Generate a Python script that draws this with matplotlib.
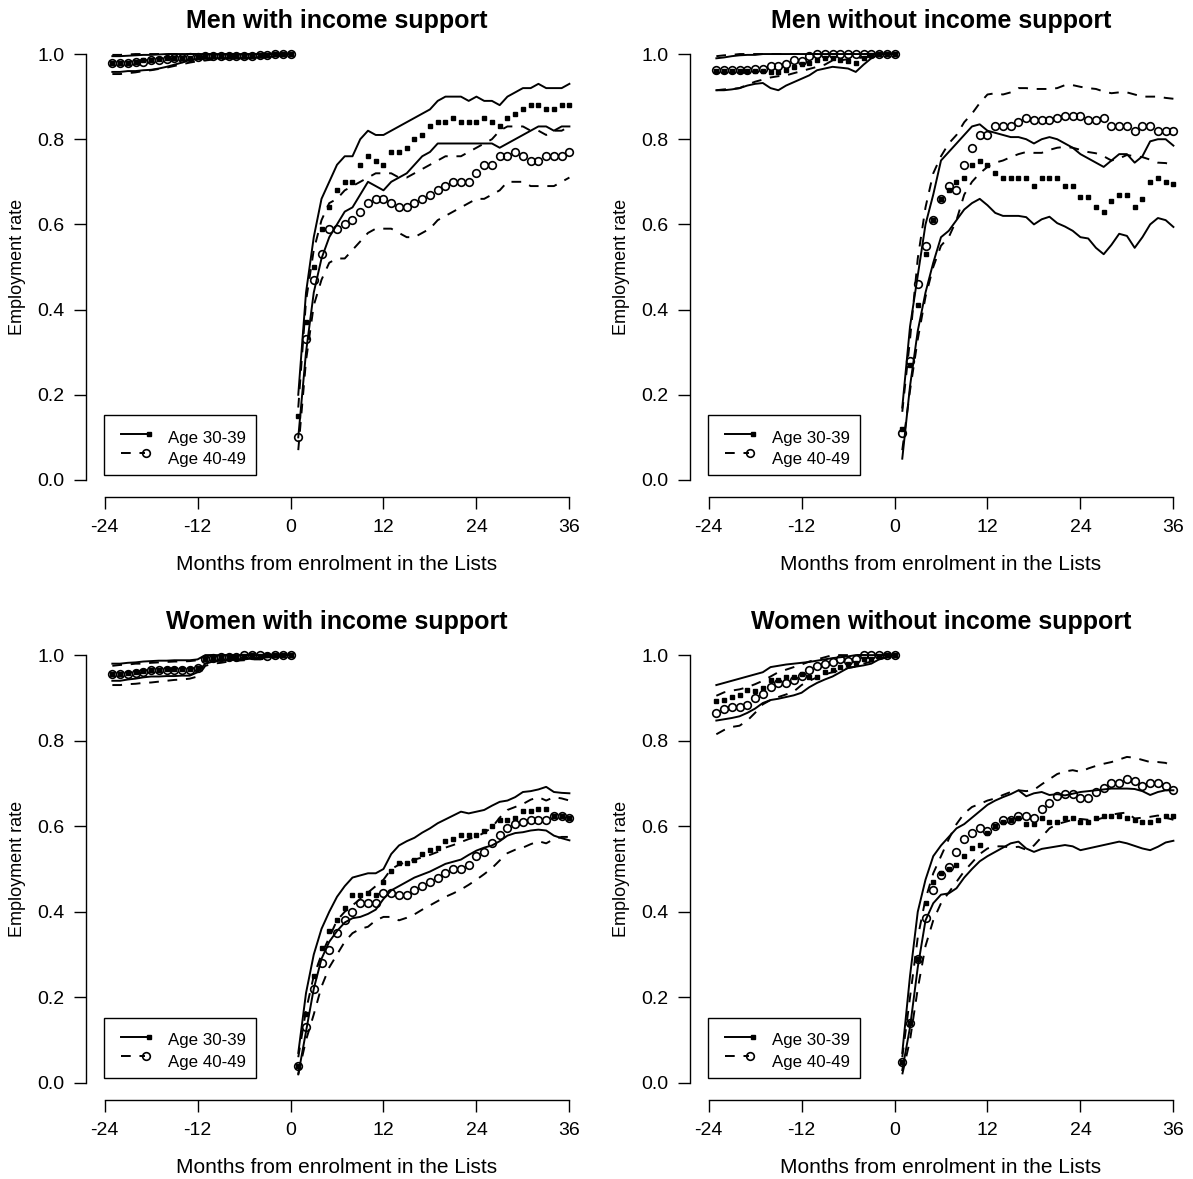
import numpy as np
import matplotlib
matplotlib.use('Agg')
import matplotlib.pyplot as plt
from matplotlib.patches import Rectangle

plt.rcParams['font.family'] = ['Liberation Sans', 'DejaVu Sans']

months_pre = np.arange(-23, 1)
months_post = np.arange(1, 37)
xticks = [-24, -12, 0, 12, 24, 36]
yticks = [0.0, 0.2, 0.4, 0.6, 0.8, 1.0]
titles = ['Men with income support', 'Men without income support',
          'Women with income support', 'Women without income support']
legend_labels = ['Age 30-39', 'Age 40-49']

# --- Men with income support ---
m_is_30_pre = [0.980, 0.978, 0.980, 0.982, 0.985, 0.985, 0.988, 0.990, 0.990, 0.990, 0.990, 0.993,
               0.995, 0.995, 0.995, 0.995, 0.995, 0.995, 0.995, 0.997, 0.997, 1.000, 1.000, 1.000]
m_is_30_pre_hi = [0.995, 0.995, 0.996, 0.997, 0.998, 0.998, 0.999, 1.000, 1.000, 1.000, 1.000, 1.000,
                  1.000, 1.000, 1.000, 1.000, 1.000, 1.000, 1.000, 1.000, 1.000, 1.000, 1.000, 1.000]
m_is_30_pre_lo = [0.958, 0.958, 0.960, 0.960, 0.962, 0.963, 0.966, 0.970, 0.975, 0.980, 0.986, 0.988,
                  0.990, 0.990, 0.990, 0.990, 0.990, 0.990, 0.992, 0.992, 0.993, 0.995, 0.997, 1.000]
m_is_40_pre = [0.978, 0.978, 0.978, 0.982, 0.982, 0.985, 0.987, 0.988, 0.990, 0.990, 0.993, 0.993,
               0.995, 0.995, 0.995, 0.995, 0.995, 0.995, 0.995, 0.997, 0.997, 1.000, 1.000, 1.000]
m_is_40_pre_hi = [0.998, 0.998, 0.999, 1.000, 1.000, 1.000, 1.000, 1.000, 1.000, 1.000, 1.000, 1.000,
                  1.000, 1.000, 1.000, 1.000, 1.000, 1.000, 1.000, 1.000, 1.000, 1.000, 1.000, 1.000]
m_is_40_pre_lo = [0.953, 0.953, 0.955, 0.957, 0.960, 0.962, 0.965, 0.968, 0.972, 0.976, 0.980, 0.983,
                  0.985, 0.987, 0.988, 0.990, 0.990, 0.990, 0.990, 0.992, 0.993, 0.995, 0.997, 1.000]
m_is_30 = [0.15, 0.37, 0.50, 0.59, 0.64, 0.68, 0.70, 0.70, 0.74, 0.76, 0.75, 0.74, 0.77, 0.77, 0.78, 0.80,
           0.81, 0.83, 0.84, 0.84, 0.85, 0.84, 0.84, 0.84, 0.85, 0.84, 0.83, 0.85, 0.86, 0.87, 0.88, 0.88,
           0.87, 0.87, 0.88, 0.88]
m_is_30_hi = [0.20, 0.44, 0.57, 0.66, 0.70, 0.74, 0.76, 0.76, 0.80, 0.82, 0.81, 0.81, 0.82, 0.83, 0.84, 0.85,
              0.86, 0.87, 0.89, 0.90, 0.90, 0.90, 0.89, 0.90, 0.89, 0.89, 0.88, 0.90, 0.91, 0.92, 0.92, 0.93,
              0.92, 0.92, 0.92, 0.93]
m_is_30_lo = [0.10, 0.30, 0.44, 0.52, 0.57, 0.60, 0.63, 0.64, 0.67, 0.70, 0.69, 0.68, 0.70, 0.71, 0.72, 0.74,
              0.76, 0.77, 0.79, 0.79, 0.79, 0.79, 0.79, 0.79, 0.79, 0.79, 0.78, 0.79, 0.80, 0.81, 0.82, 0.83,
              0.83, 0.82, 0.83, 0.83]
m_is_40 = [0.10, 0.33, 0.47, 0.53, 0.59, 0.59, 0.60, 0.61, 0.63, 0.65, 0.66, 0.66, 0.65, 0.64, 0.64, 0.65,
           0.66, 0.67, 0.68, 0.69, 0.70, 0.70, 0.70, 0.72, 0.74, 0.74, 0.76, 0.76, 0.77, 0.76, 0.75, 0.75,
           0.76, 0.76, 0.76, 0.77]
m_is_40_hi = [0.17, 0.42, 0.54, 0.61, 0.65, 0.66, 0.68, 0.69, 0.70, 0.71, 0.72, 0.72, 0.72, 0.71, 0.71, 0.72,
              0.73, 0.74, 0.75, 0.76, 0.76, 0.76, 0.77, 0.78, 0.79, 0.80, 0.82, 0.83, 0.83, 0.83, 0.82, 0.82,
              0.81, 0.82, 0.82, 0.83]
m_is_40_lo = [0.07, 0.28, 0.41, 0.47, 0.51, 0.52, 0.52, 0.54, 0.56, 0.58, 0.59, 0.59, 0.59, 0.58, 0.57, 0.57,
              0.58, 0.59, 0.61, 0.62, 0.63, 0.64, 0.65, 0.66, 0.66, 0.67, 0.68, 0.70, 0.70, 0.70, 0.69, 0.69,
              0.69, 0.69, 0.70, 0.71]

# --- Men without income support ---
m_nis_30_pre = [0.960, 0.960, 0.960, 0.960, 0.960, 0.960, 0.960, 0.958, 0.958, 0.962, 0.970, 0.977,
                0.978, 0.985, 0.990, 0.990, 0.987, 0.983, 0.980, 0.990, 0.997, 1.000, 1.000, 1.000]
m_nis_30_pre_hi = [0.990, 0.992, 0.995, 0.997, 0.998, 0.998, 1.000, 1.000, 1.000, 1.000, 1.000, 1.000,
                   1.000, 1.000, 1.000, 1.000, 1.000, 1.000, 1.000, 1.000, 1.000, 1.000, 1.000, 1.000]
m_nis_30_pre_lo = [0.915, 0.915, 0.917, 0.920, 0.926, 0.930, 0.932, 0.920, 0.915, 0.926, 0.934, 0.942,
                   0.950, 0.962, 0.966, 0.970, 0.968, 0.966, 0.958, 0.975, 0.990, 1.000, 1.000, 1.000]
m_nis_40_pre = [0.962, 0.962, 0.962, 0.962, 0.962, 0.964, 0.964, 0.972, 0.973, 0.977, 0.987, 0.984,
                0.995, 1.000, 1.000, 1.000, 1.000, 1.000, 1.000, 1.000, 1.000, 1.000, 1.000, 1.000]
m_nis_40_pre_hi = [0.995, 0.997, 0.998, 1.000, 1.000, 1.000, 1.000, 1.000, 1.000, 1.000, 1.000, 1.000,
                   1.000, 1.000, 1.000, 1.000, 1.000, 1.000, 1.000, 1.000, 1.000, 1.000, 1.000, 1.000]
m_nis_40_pre_lo = [0.915, 0.917, 0.918, 0.920, 0.928, 0.935, 0.940, 0.945, 0.948, 0.950, 0.955, 0.960,
                   0.965, 0.970, 0.975, 0.985, 0.985, 0.988, 0.990, 0.992, 0.995, 1.000, 1.000, 1.000]
m_nis_30 = [0.12, 0.27, 0.41, 0.53, 0.61, 0.66, 0.68, 0.70, 0.71, 0.74, 0.75, 0.74, 0.72, 0.71, 0.71, 0.71,
            0.71, 0.69, 0.71, 0.71, 0.71, 0.69, 0.69, 0.665, 0.665, 0.64, 0.63, 0.655, 0.67, 0.67, 0.64, 0.66,
            0.70, 0.71, 0.70, 0.695]
m_nis_30_hi = [0.17, 0.36, 0.48, 0.60, 0.67, 0.75, 0.77, 0.79, 0.81, 0.83, 0.835, 0.82, 0.815, 0.81, 0.805,
               0.805, 0.80, 0.79, 0.80, 0.805, 0.80, 0.79, 0.78, 0.765, 0.755, 0.745, 0.735, 0.75, 0.765, 0.765,
               0.745, 0.76, 0.795, 0.80, 0.80, 0.785]
m_nis_30_lo = [0.05, 0.22, 0.35, 0.44, 0.51, 0.57, 0.585, 0.61, 0.635, 0.65, 0.66, 0.645, 0.627, 0.62, 0.62,
               0.62, 0.617, 0.60, 0.612, 0.618, 0.603, 0.595, 0.585, 0.57, 0.567, 0.545, 0.53, 0.552, 0.578,
               0.573, 0.545, 0.57, 0.60, 0.615, 0.61, 0.594]
m_nis_40 = [0.11, 0.28, 0.46, 0.55, 0.61, 0.66, 0.69, 0.68, 0.74, 0.78, 0.81, 0.81, 0.83, 0.83, 0.83, 0.84,
            0.85, 0.845, 0.845, 0.845, 0.85, 0.855, 0.855, 0.855, 0.845, 0.845, 0.85, 0.83, 0.83, 0.83, 0.82,
            0.83, 0.83, 0.82, 0.82, 0.82]
m_nis_40_hi = [0.16, 0.33, 0.52, 0.64, 0.72, 0.76, 0.79, 0.81, 0.84, 0.86, 0.885, 0.905, 0.908, 0.905, 0.91,
               0.92, 0.92, 0.918, 0.918, 0.918, 0.92, 0.927, 0.927, 0.923, 0.92, 0.918, 0.912, 0.908, 0.91,
               0.91, 0.905, 0.90, 0.90, 0.90, 0.897, 0.895]
m_nis_40_lo = [0.07, 0.21, 0.33, 0.43, 0.50, 0.55, 0.57, 0.61, 0.67, 0.70, 0.72, 0.735, 0.745, 0.75, 0.758,
               0.765, 0.77, 0.768, 0.768, 0.775, 0.78, 0.782, 0.78, 0.775, 0.77, 0.767, 0.76, 0.75, 0.755,
               0.763, 0.76, 0.758, 0.752, 0.745, 0.744, 0.74]

# --- Women with income support ---
w_is_30_pre = [0.955, 0.955, 0.958, 0.960, 0.962, 0.965, 0.965, 0.967, 0.967, 0.968, 0.968, 0.970,
               0.990, 0.993, 0.995, 0.995, 0.996, 0.998, 1.000, 0.998, 1.000, 1.000, 1.000, 1.000]
w_is_30_pre_hi = [0.980, 0.980, 0.982, 0.983, 0.985, 0.986, 0.987, 0.987, 0.988, 0.988, 0.988, 0.990,
                  1.000, 1.000, 1.000, 1.000, 1.000, 1.000, 1.000, 1.000, 1.000, 1.000, 1.000, 1.000]
w_is_30_pre_lo = [0.940, 0.940, 0.943, 0.945, 0.948, 0.950, 0.950, 0.951, 0.951, 0.952, 0.952, 0.960,
                  0.980, 0.985, 0.987, 0.988, 0.990, 0.990, 0.992, 0.993, 0.995, 0.997, 1.000, 1.000]
w_is_40_pre = [0.955, 0.955, 0.955, 0.958, 0.960, 0.965, 0.965, 0.965, 0.965, 0.965, 0.965, 0.970,
               0.990, 0.993, 0.995, 0.995, 0.995, 1.000, 1.000, 1.000, 0.998, 1.000, 1.000, 1.000]
w_is_40_pre_hi = [0.975, 0.977, 0.978, 0.980, 0.980, 0.982, 0.983, 0.984, 0.985, 0.985, 0.986, 0.988,
                  0.998, 1.000, 1.000, 1.000, 1.000, 1.000, 1.000, 1.000, 1.000, 1.000, 1.000, 1.000]
w_is_40_pre_lo = [0.930, 0.930, 0.932, 0.933, 0.935, 0.936, 0.938, 0.940, 0.942, 0.943, 0.945, 0.950,
                  0.975, 0.980, 0.982, 0.985, 0.987, 0.988, 0.990, 0.990, 0.992, 0.995, 0.998, 1.000]
w_is_30 = [0.04, 0.16, 0.25, 0.315, 0.355, 0.38, 0.41, 0.44, 0.44, 0.445, 0.44, 0.47, 0.495, 0.515, 0.515,
           0.52, 0.535, 0.545, 0.55, 0.565, 0.57, 0.58, 0.58, 0.58, 0.59, 0.60, 0.615, 0.615, 0.62, 0.635,
           0.635, 0.64, 0.64, 0.625, 0.625, 0.62]
w_is_30_hi = [0.07, 0.21, 0.30, 0.36, 0.40, 0.435, 0.46, 0.48, 0.485, 0.49, 0.49, 0.50, 0.535, 0.555, 0.565,
              0.573, 0.585, 0.595, 0.607, 0.616, 0.625, 0.634, 0.63, 0.634, 0.638, 0.648, 0.657, 0.66, 0.668,
              0.68, 0.682, 0.686, 0.692, 0.68, 0.678, 0.677]
w_is_30_lo = [0.02, 0.12, 0.22, 0.29, 0.33, 0.355, 0.375, 0.385, 0.388, 0.395, 0.405, 0.43, 0.45, 0.46, 0.47,
              0.48, 0.487, 0.494, 0.503, 0.512, 0.517, 0.522, 0.533, 0.543, 0.55, 0.555, 0.565, 0.578, 0.584,
              0.586, 0.59, 0.592, 0.59, 0.578, 0.572, 0.567]
w_is_40 = [0.04, 0.13, 0.22, 0.28, 0.31, 0.35, 0.38, 0.40, 0.42, 0.42, 0.42, 0.445, 0.445, 0.44, 0.44, 0.45,
           0.46, 0.47, 0.48, 0.49, 0.50, 0.50, 0.51, 0.53, 0.54, 0.56, 0.58, 0.595, 0.605, 0.61, 0.615, 0.615,
           0.615, 0.625, 0.625, 0.62]
w_is_40_hi = [0.06, 0.17, 0.25, 0.30, 0.34, 0.38, 0.40, 0.415, 0.43, 0.445, 0.46, 0.475, 0.50, 0.51, 0.517,
              0.522, 0.527, 0.533, 0.54, 0.55, 0.556, 0.563, 0.57, 0.575, 0.585, 0.597, 0.62, 0.638, 0.645,
              0.652, 0.662, 0.668, 0.66, 0.668, 0.665, 0.66]
w_is_40_lo = [0.02, 0.10, 0.16, 0.225, 0.27, 0.30, 0.33, 0.35, 0.36, 0.365, 0.38, 0.388, 0.388, 0.38, 0.386,
              0.394, 0.405, 0.415, 0.425, 0.435, 0.443, 0.452, 0.463, 0.475, 0.488, 0.502, 0.52, 0.537, 0.545,
              0.55, 0.558, 0.565, 0.56, 0.57, 0.575, 0.575]

# --- Women without income support ---
w_nis_30_pre = [0.893, 0.896, 0.902, 0.906, 0.918, 0.916, 0.922, 0.941, 0.941, 0.949, 0.949, 0.955,
                0.949, 0.949, 0.961, 0.966, 0.972, 0.980, 0.982, 0.990, 0.992, 0.998, 1.000, 1.000]
w_nis_30_pre_hi = [0.930, 0.935, 0.940, 0.945, 0.950, 0.955, 0.960, 0.972, 0.975, 0.978, 0.980, 0.982,
                   0.984, 0.987, 0.990, 0.993, 0.995, 0.997, 1.000, 1.000, 1.000, 1.000, 1.000, 1.000]
w_nis_30_pre_lo = [0.847, 0.850, 0.853, 0.857, 0.865, 0.875, 0.888, 0.895, 0.898, 0.902, 0.906, 0.912,
                   0.925, 0.935, 0.943, 0.950, 0.960, 0.970, 0.973, 0.976, 0.980, 0.990, 0.995, 1.000]
w_nis_40_pre = [0.864, 0.873, 0.878, 0.878, 0.883, 0.899, 0.910, 0.926, 0.934, 0.935, 0.941, 0.951,
                0.965, 0.974, 0.980, 0.984, 0.992, 0.986, 0.992, 1.000, 1.000, 1.000, 1.000, 1.000]
w_nis_40_pre_hi = [0.905, 0.913, 0.917, 0.920, 0.925, 0.932, 0.940, 0.950, 0.960, 0.966, 0.972, 0.978,
                   0.985, 0.990, 0.995, 1.000, 1.000, 1.000, 1.000, 1.000, 1.000, 1.000, 1.000, 1.000]
w_nis_40_pre_lo = [0.815, 0.825, 0.832, 0.835, 0.847, 0.865, 0.885, 0.895, 0.902, 0.908, 0.915, 0.930,
                   0.940, 0.948, 0.955, 0.960, 0.965, 0.970, 0.973, 0.980, 0.985, 0.990, 0.995, 1.000]
w_nis_30 = [0.05, 0.14, 0.29, 0.42, 0.47, 0.49, 0.50, 0.51, 0.53, 0.55, 0.555, 0.585, 0.60, 0.61, 0.615, 0.62,
            0.605, 0.605, 0.62, 0.61, 0.61, 0.62, 0.62, 0.61, 0.61, 0.62, 0.625, 0.625, 0.625, 0.62, 0.615,
            0.61, 0.61, 0.615, 0.625, 0.625]
w_nis_30_hi = [0.07, 0.25, 0.40, 0.475, 0.53, 0.555, 0.575, 0.595, 0.605, 0.62, 0.635, 0.65, 0.66, 0.668,
               0.675, 0.684, 0.67, 0.677, 0.68, 0.673, 0.675, 0.672, 0.676, 0.68, 0.682, 0.684, 0.686, 0.688,
               0.688, 0.688, 0.687, 0.682, 0.673, 0.68, 0.684, 0.684]
w_nis_30_lo = [0.03, 0.13, 0.27, 0.38, 0.42, 0.44, 0.443, 0.455, 0.48, 0.50, 0.518, 0.53, 0.54, 0.55, 0.56,
               0.564, 0.548, 0.54, 0.547, 0.55, 0.553, 0.556, 0.553, 0.544, 0.548, 0.552, 0.556, 0.56, 0.564,
               0.56, 0.554, 0.548, 0.544, 0.552, 0.562, 0.566]
w_nis_40 = [0.05, 0.14, 0.29, 0.385, 0.45, 0.485, 0.505, 0.54, 0.57, 0.585, 0.595, 0.59, 0.60, 0.615, 0.615,
            0.625, 0.625, 0.62, 0.64, 0.655, 0.67, 0.675, 0.675, 0.665, 0.665, 0.68, 0.69, 0.70, 0.70, 0.71,
            0.705, 0.695, 0.70, 0.70, 0.695, 0.685]
w_nis_40_hi = [0.06, 0.20, 0.34, 0.43, 0.49, 0.53, 0.57, 0.605, 0.63, 0.645, 0.652, 0.66, 0.665, 0.673, 0.68,
               0.684, 0.682, 0.685, 0.698, 0.71, 0.722, 0.728, 0.731, 0.727, 0.735, 0.741, 0.746, 0.75, 0.756,
               0.762, 0.76, 0.755, 0.75, 0.75, 0.748, 0.739]
w_nis_40_lo = [0.02, 0.10, 0.22, 0.32, 0.38, 0.42, 0.445, 0.47, 0.495, 0.515, 0.535, 0.548, 0.553, 0.553,
               0.55, 0.552, 0.545, 0.555, 0.575, 0.595, 0.605, 0.61, 0.615, 0.617, 0.615, 0.615, 0.62, 0.627,
               0.63, 0.632, 0.618, 0.62, 0.622, 0.625, 0.62, 0.615]

panels = [
    (m_is_30_pre, m_is_30_pre_lo, m_is_30_pre_hi, m_is_30, m_is_30_lo, m_is_30_hi,
     m_is_40_pre, m_is_40_pre_lo, m_is_40_pre_hi, m_is_40, m_is_40_lo, m_is_40_hi),
    (m_nis_30_pre, m_nis_30_pre_lo, m_nis_30_pre_hi, m_nis_30, m_nis_30_lo, m_nis_30_hi,
     m_nis_40_pre, m_nis_40_pre_lo, m_nis_40_pre_hi, m_nis_40, m_nis_40_lo, m_nis_40_hi),
    (w_is_30_pre, w_is_30_pre_lo, w_is_30_pre_hi, w_is_30, w_is_30_lo, w_is_30_hi,
     w_is_40_pre, w_is_40_pre_lo, w_is_40_pre_hi, w_is_40, w_is_40_lo, w_is_40_hi),
    (w_nis_30_pre, w_nis_30_pre_lo, w_nis_30_pre_hi, w_nis_30, w_nis_30_lo, w_nis_30_hi,
     w_nis_40_pre, w_nis_40_pre_lo, w_nis_40_pre_hi, w_nis_40, w_nis_40_lo, w_nis_40_hi),
]

W, H = 1193, 1179
fig = plt.figure(figsize=(W / 100, H / 100), dpi=100)

# axes boxes in pixels: left, top, right, bottom
boxes = [(86, 37, 588, 497), (690, 37, 1192, 497),
         (86, 638, 588, 1100), (690, 638, 1192, 1100)]

LW = 1.4
DASH = (0, (5, 4.5))


def draw_legend(ax):
    ax.add_patch(Rectangle((0.036, 0.048), 0.303, 0.130, transform=ax.transAxes,
                           fill=False, ec='black', lw=1.0, clip_on=False))
    ax.plot([0.070, 0.125], [0.137, 0.137], transform=ax.transAxes, color='black', lw=LW)
    ax.plot([0.125], [0.137], 's', transform=ax.transAxes, color='black', ms=3.2)
    ax.plot([0.070, 0.118], [0.096, 0.096], transform=ax.transAxes, color='black', lw=LW, ls=DASH)
    ax.plot([0.120], [0.096], 'o', transform=ax.transAxes, mfc='none', mec='black', ms=5.5, mew=1.2)
    ax.text(0.163, 0.128, legend_labels[0], transform=ax.transAxes, fontsize=12.2, va='center')
    ax.text(0.163, 0.082, legend_labels[1], transform=ax.transAxes, fontsize=12.2, va='center')


for i, (box, data) in enumerate(zip(boxes, panels)):
    l, t, r, b = box
    ax = fig.add_axes([l / W, (H - b) / H, (r - l) / W, (b - t) / H])
    (p30, p30lo, p30hi, y30, y30lo, y30hi,
     p40, p40lo, p40hi, y40, y40lo, y40hi) = data

    for xs, lo, hi in [(months_pre, p30lo, p30hi), (months_post, y30lo, y30hi)]:
        ax.plot(xs, lo, color='black', lw=LW)
        ax.plot(xs, hi, color='black', lw=LW)
    for xs, lo, hi in [(months_pre, p40lo, p40hi), (months_post, y40lo, y40hi)]:
        ax.plot(xs, lo, color='black', lw=LW, ls=DASH)
        ax.plot(xs, hi, color='black', lw=LW, ls=DASH)

    for xs, ys in [(months_pre, p30), (months_post, y30)]:
        ax.plot(xs, ys, 's', color='black', ms=3.2)
    for xs, ys in [(months_pre, p40), (months_post, y40)]:
        ax.plot(xs, ys, 'o', mfc='none', mec='black', ms=5.5, mew=1.2)

    ax.set_xlim(-26.4, 38.4)
    ax.set_ylim(-0.04, 1.04)
    ax.set_xticks(xticks)
    ax.set_xticklabels([str(v) for v in xticks])
    ax.set_yticks(yticks)
    ax.set_yticklabels(['%.1f' % v for v in yticks])
    for s in ['top', 'right']:
        ax.spines[s].set_visible(False)
    ax.spines['left'].set_bounds(0, 1)
    ax.spines['bottom'].set_bounds(-24, 36)
    ax.spines['left'].set_linewidth(1.0)
    ax.spines['bottom'].set_linewidth(1.0)
    ax.tick_params(direction='out', length=8.5, width=1.0, pad=7, labelsize=14)

    ax.set_title(titles[i], fontsize=18, fontweight='bold', pad=6.5)
    ax.set_xlabel('Months from enrolment in the Lists', fontsize=15)
    ax.xaxis.set_label_coords(0.5, -0.125)
    ax.set_ylabel('Employment rate', fontsize=13)
    ax.yaxis.set_label_coords(-0.12, 0.5)

    draw_legend(ax)

fig.savefig('out.png', dpi=100)
